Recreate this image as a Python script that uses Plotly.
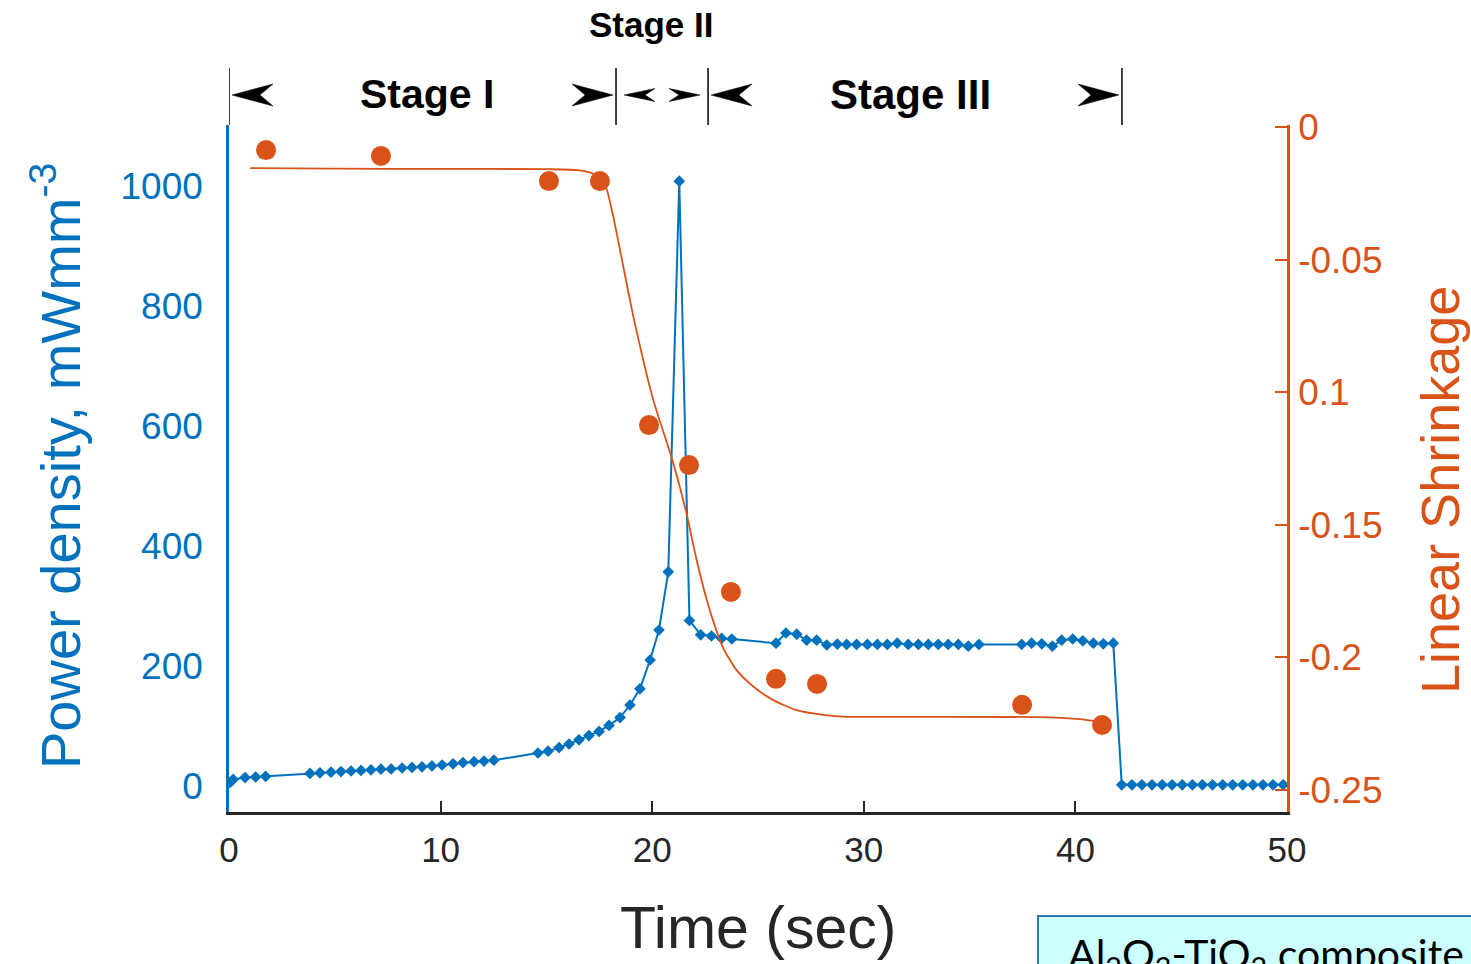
import plotly.graph_objects as go

# ---- power density (left axis), mW/mm^3 ----
time_power = [0.05, 0.2, 0.76, 1.26, 1.73, 3.83, 4.30, 4.82, 5.29, 5.77, 6.24, 6.71, 7.18, 7.66,
              8.18, 8.65, 9.12, 9.59, 10.07, 10.59, 11.06, 11.58, 12.05, 12.52, 14.6, 15.08,
              15.6, 16.07, 16.54, 17.01, 17.49, 17.96, 18.48, 18.95, 19.42, 19.9, 20.32, 20.76,
              21.28, 21.76, 22.29, 22.8, 23.28, 23.76, 25.85, 26.32, 26.83, 27.3, 27.77, 28.25,
              28.75, 29.19, 29.66, 30.17, 30.64, 31.11, 31.58, 32.1, 32.58, 33.05, 33.52, 33.99,
              34.47, 34.94, 35.44, 37.46, 37.93, 38.41, 38.91, 39.35, 39.87, 40.35, 40.85, 41.32,
              41.79, 42.19, 42.67, 43.14, 43.62, 44.10, 44.57, 45.05, 45.53, 46.00, 46.48, 46.96,
              47.43, 47.91, 48.39, 48.86, 49.34, 49.82]
power_density = [6, 11, 14, 15, 16, 21, 22, 23, 24, 25, 26, 27, 28, 28.5,
                 30, 31, 32, 33.5, 35, 37, 39, 40.5, 41.5, 43, 55, 58,
                 64, 70, 77, 84, 91, 101, 114, 135, 162, 210, 260, 357,
                 1008, 276, 252, 250, 246, 245, 238, 255, 253, 243, 243, 235,
                 236.5, 236, 236, 236, 236, 236, 238, 236, 236, 236, 236, 236,
                 236, 233, 236, 236, 238, 237, 233, 243, 245, 242, 238, 237,
                 238, 2, 2, 2, 2, 2, 2, 2, 2, 2, 2, 2,
                 2, 2, 2, 2, 2, 2]

# ---- measured linear shrinkage (right axis) ----
time_shrink = [1.75, 7.18, 15.12, 17.53, 19.85, 21.74, 23.72, 25.85, 27.79, 37.48, 41.26]
shrinkage = [-0.0087, -0.0109, -0.0204, -0.0204, -0.1124, -0.1275, -0.1753, -0.2081,
             -0.2100, -0.2179, -0.2255]

# ---- fitted shrinkage curve ----
time_fit = [1.0, 5.0, 10.0, 15.0, 16.5, 17.3, 17.8, 18.16, 19.11, 20.05, 20.95, 21.6,
            22.1, 22.58, 22.97, 23.36, 23.99, 24.78, 25.72, 26.83, 28.09, 29.19, 33.1,
            38.8, 40.2, 41.2]
shrink_fit = [-0.0155, -0.0157, -0.0158, -0.0159, -0.0163, -0.0180, -0.0225, -0.0338,
              -0.0715, -0.1029, -0.1255, -0.1450, -0.1633, -0.1784, -0.1884, -0.1966,
              -0.2048, -0.2110, -0.2161, -0.2199, -0.2217, -0.2224, -0.2224, -0.2226,
              -0.2233, -0.2243]

# ---- axis ticks ----
x_ticks = [0, 10, 20, 30, 40, 50]
left_ticks = [0, 200, 400, 600, 800, 1000]
right_ticks = [0, -0.05, -0.1, -0.15, -0.2, -0.25]
right_tick_text = ["0", "-0.05", "0.1", "-0.15", "-0.2", "-0.25"]

# ---- sintering stages ----
stage_bounds = [0, 18.29, 22.64, 42.2]
stage_names = ["Stage I", "Stage II", "Stage III"]
stage_label_x = [9.36, 19.94, 32.2]

BLUE = "#0072BD"
ORANGE = "#D95319"
DARK = "#262626"

W, H = 1471, 964
ML, MR, MT, MB = 229, 184, 125, 152
PLOT_W = W - ML - MR
PLOT_H = H - MT - MB
X_RANGE = [0, 50]
PX_PER_SEC = PLOT_W / (X_RANGE[1] - X_RANGE[0])


def py_to_paper(py):
    return (H - MB - py) / PLOT_H


def px_to_paper(px):
    return (px - ML) / PLOT_W


fig = go.Figure()

fig.add_trace(go.Scatter(
    x=time_power, y=power_density, mode="lines+markers",
    line=dict(color=BLUE, width=2),
    marker=dict(symbol="diamond", size=9, color=BLUE),
    yaxis="y", showlegend=False))

fig.add_trace(go.Scatter(
    x=time_fit, y=shrink_fit, mode="lines",
    line=dict(color=ORANGE, width=1.8, shape="spline", smoothing=0.6),
    yaxis="y2", showlegend=False))

fig.add_trace(go.Scatter(
    x=time_shrink, y=shrinkage, mode="markers",
    marker=dict(symbol="circle", size=20, color=ORANGE),
    yaxis="y2", showlegend=False))

shapes = []
annotations = []

# stage boundary ticks above the plot
for b in stage_bounds:
    shapes.append(dict(type="line", xref="x", yref="paper", x0=b, x1=b,
                       y0=1.0, y1=py_to_paper(68), line=dict(color="black", width=1.5)))


def arrow_head(tip, pointing, length_px, half_px, yc):
    dx = length_px / PX_PER_SEC
    dy = half_px / PLOT_H
    s = 1 if pointing == "left" else -1
    back = tip + s * dx
    notch = tip + s * 0.68 * dx
    path = (f"M {tip},{yc} L {back},{yc + dy} L {notch},{yc} "
            f"L {back},{yc - dy} Z")
    return dict(type="path", xref="x", yref="paper", path=path,
                fillcolor="black", line=dict(color="black", width=0.5))


y_arrow = py_to_paper(95)
gap = 3 / PX_PER_SEC
for i in range(3):
    left_b, right_b = stage_bounds[i], stage_bounds[i + 1]
    if stage_names[i] == "Stage II":
        ln, hh, g = 31, 6.5, 8 / PX_PER_SEC
    else:
        ln, hh, g = 41, 11, gap
    shapes.append(arrow_head(left_b + g, "left", ln, hh, y_arrow))
    shapes.append(arrow_head(right_b - g, "right", ln, hh, y_arrow))

annotations.append(dict(text="Stage I", x=stage_label_x[0], xref="x", y=py_to_paper(94),
                        yref="paper", showarrow=False, xanchor="center", yanchor="middle",
                        font=dict(family="Liberation Sans, Arial", size=41, color="black",
                                  weight="bold")))
annotations.append(dict(text="Stage II", x=stage_label_x[1], xref="x", y=py_to_paper(25),
                        yref="paper", showarrow=False, xanchor="center", yanchor="middle",
                        font=dict(family="Liberation Sans, Arial", size=35, color="black",
                                  weight="bold")))
annotations.append(dict(text="Stage III", x=stage_label_x[2], xref="x", y=py_to_paper(94),
                        yref="paper", showarrow=False, xanchor="center", yanchor="middle",
                        font=dict(family="Liberation Sans, Arial", size=42, color="black",
                                  weight="bold")))

# axis titles
annotations.append(dict(text="Power density, mWmm<sup>-3</sup>", textangle=-90,
                        x=px_to_paper(56), y=py_to_paper(466), xref="paper", yref="paper",
                        showarrow=False, xanchor="center", yanchor="middle",
                        font=dict(family="Liberation Sans, Arial", size=56, color=BLUE)))
annotations.append(dict(text="Linear Shrinkage", textangle=-90,
                        x=px_to_paper(1440), y=py_to_paper(490), xref="paper", yref="paper",
                        showarrow=False, xanchor="center", yanchor="middle",
                        font=dict(family="Liberation Sans, Arial", size=54, color=ORANGE)))
annotations.append(dict(text="Time (sec)",
                        x=0.5, y=py_to_paper(928), xref="paper", yref="paper",
                        showarrow=False, xanchor="center", yanchor="middle",
                        font=dict(family="Liberation Sans, Arial", size=59, color=DARK)))

# material label box
shapes.append(dict(type="rect", xref="paper", yref="paper",
                   x0=px_to_paper(1038), x1=px_to_paper(1490),
                   y0=py_to_paper(990), y1=py_to_paper(916),
                   fillcolor="#CCFFFF", line=dict(color="#2E75B6", width=2)))
annotations.append(dict(text="Al<sub>2</sub>O<sub>3</sub>-TiO<sub>2</sub> composite",
                        x=px_to_paper(1066), y=py_to_paper(956), xref="paper", yref="paper",
                        showarrow=False, xanchor="left", yanchor="middle",
                        font=dict(family="Lato, Open Sans", size=41, color="black")))

fig.update_layout(
    width=W, height=H,
    margin=dict(l=ML, r=MR, t=MT, b=MB, autoexpand=False),
    paper_bgcolor="white", plot_bgcolor="white",
    xaxis=dict(range=X_RANGE, tickvals=x_ticks, showgrid=False, zeroline=False,
               showline=True, linecolor=DARK, linewidth=3,
               ticks="inside", ticklen=11, tickwidth=2, tickcolor=DARK,
               ticklabelstandoff=5,
               tickfont=dict(family="Liberation Sans, Arial", size=35, color=DARK)),
    yaxis=dict(range=[-43.3, 1101.7], tickvals=left_ticks, showgrid=False, zeroline=False,
               showline=True, linecolor=BLUE, linewidth=2.5, ticks="",
               ticklabelstandoff=16,
               tickfont=dict(family="Liberation Sans, Arial", size=37, color=BLUE)),
    yaxis2=dict(range=[-0.2583, 0.00075], overlaying="y", side="right",
                tickvals=right_ticks, ticktext=right_tick_text,
                showgrid=False, zeroline=False,
                showline=True, linecolor=ORANGE, linewidth=2.5,
                ticks="inside", ticklen=12, tickwidth=2, tickcolor=ORANGE,
                ticklabelstandoff=1,
                tickfont=dict(family="Liberation Sans, Arial", size=37, color=ORANGE)),
    shapes=shapes,
    annotations=annotations,
)

fig.write_html("out.html")
